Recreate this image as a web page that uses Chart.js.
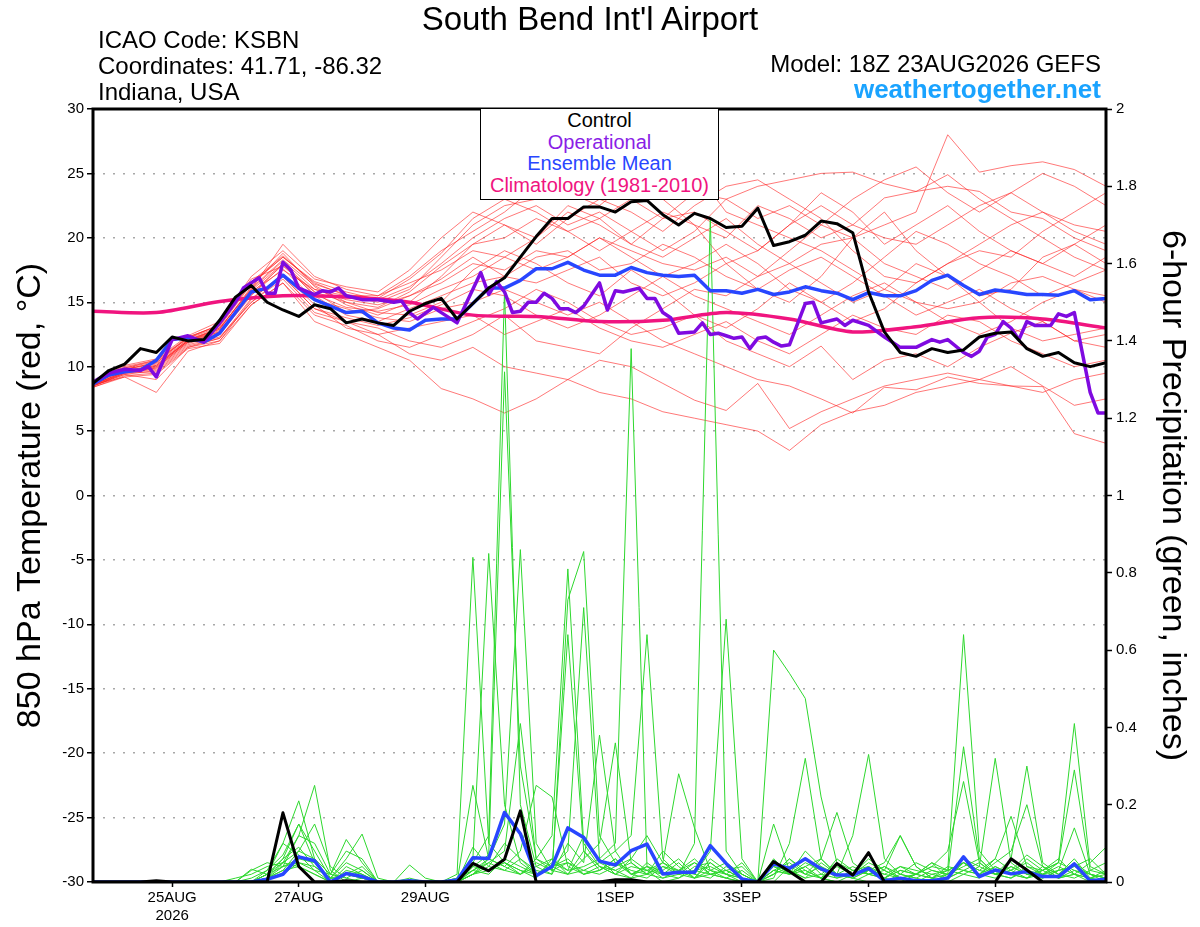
<!DOCTYPE html>
<html><head><meta charset="utf-8">
<script src="https://cdn.jsdelivr.net/npm/chart.js@4.4.1/dist/chart.umd.min.js"></script>
<style>
html,body{margin:0;padding:0;background:#fff;}
#wrap{position:relative;width:1200px;height:927px;overflow:hidden;font-family:"Liberation Sans",Arial,sans-serif;}
#c{position:absolute;left:0;top:0;}
.t{position:absolute;white-space:nowrap;line-height:1;color:#000;}
#legend{position:absolute;left:480px;top:108px;width:239px;height:92px;box-sizing:border-box;border:1.5px solid #000;background:#fff;text-align:center;font-size:20px;line-height:21.5px;padding-top:1px;}
</style></head>
<body><div id="wrap">
<canvas id="c" width="1200" height="927"></canvas>
<div class="t" style="left:390px;width:400px;text-align:center;top:2px;font-size:33px;">South Bend Int'l Airport</div>
<div class="t" style="left:98px;top:28px;font-size:24px;">ICAO Code: KSBN</div>
<div class="t" style="left:98px;top:54px;font-size:24px;">Coordinates: 41.71, -86.32</div>
<div class="t" style="left:98px;top:80px;font-size:24px;">Indiana, USA</div>
<div class="t" style="right:99px;top:52px;font-size:24px;text-align:right;">Model: 18Z 23AUG2026 GEFS</div>
<div class="t" style="right:99px;top:76px;font-size:26px;font-weight:bold;color:#1aa3ff;text-align:right;">weathertogether.net</div>
<div id="legend">
<div style="color:#000">Control</div>
<div style="color:#8a1ee6">Operational</div>
<div style="color:#2846ff">Ensemble Mean</div>
<div style="color:#f0147f">Climatology (1981-2010)</div>
</div>
</div>
<script>
// ---------- DATA ----------
const xTickHours  = [30, 78, 126, 198, 246, 294, 342];
const xTickLabels = [["25AUG","2026"], "27AUG", "29AUG", "1SEP", "3SEP", "5SEP", "7SEP"];

// lead hours from 18Z 23AUG2026, 6-hourly and 12-hourly grids
const leadHours6  = Array.from({length: 65}, (_, i) => i * 6);
const leadHours12 = Array.from({length: 33}, (_, i) => i * 12);

const controlTemp = [8.7,9.7,10.2,11.4,11.1,12.3,12.0,12.1,13.6,15.4,16.3,15.0,14.4,13.9,14.8,14.5,13.4,13.7,13.4,13.2,14.3,14.9,15.3,13.7,14.9,16.1,16.9,18.5,20.1,21.5,21.5,22.4,22.4,22.0,22.8,22.9,21.8,21.0,21.9,21.5,20.8,20.9,22.3,19.4,19.7,20.2,21.3,21.1,20.4,15.8,12.7,11.1,10.8,11.4,11.1,11.3,12.3,12.6,12.7,11.4,10.8,11.1,10.3,10.0,10.3];
const meanTemp = [8.65,9.35,9.6,9.74,10.5,12.1,12.25,11.9,12.6,14.2,15.8,16.1,17.1,16.1,15.2,14.7,14.2,14.3,13.4,13.0,12.85,13.6,13.7,13.7,14.9,16.1,16.1,16.7,17.6,17.6,18.1,17.5,17.1,17.1,17.7,17.3,17.1,17.0,17.1,15.9,15.9,15.7,16.0,15.6,15.8,16.2,15.9,15.7,15.2,15.75,15.5,15.5,15.9,16.7,17.1,16.3,15.6,15.95,15.8,15.6,15.6,15.55,15.9,15.2,15.3];

const opHours = [0,6,12,18,21,24,30,36,42,48,54,57,63,66,69,72,75,78,84,87,90,93,96,102,108,114,117,120,123,129,138,141,147,150,153,156,159,162,165,168,171,174,177,180,183,186,192,195,198,201,207,210,213,216,219,222,228,231,234,237,240,243,246,249,252,255,258,261,264,270,273,276,282,285,288,294,300,306,312,318,321,324,330,333,336,339,342,345,348,351,354,357,363,366,369,372,378,381,384];
const opTemp = [8.8,9.5,9.8,9.7,10.0,9.2,12.1,12.4,11.9,13.4,15.0,16.1,16.9,15.7,15.7,18.1,17.5,16.1,15.6,15.9,15.8,16.1,15.5,15.2,15.2,15.0,15.1,14.2,13.7,14.6,13.4,14.7,17.3,15.6,16.6,15.8,14.2,14.3,15.0,15.0,15.7,15.3,14.5,14.5,14.2,14.7,16.5,14.4,15.9,15.8,16.1,15.3,15.3,14.2,13.8,12.6,12.7,13.4,12.5,12.6,12.4,12.2,12.3,11.4,12.2,12.3,11.9,11.6,11.7,14.9,15.0,13.4,13.7,13.2,13.6,13.2,12.3,11.5,11.5,12.1,11.9,12.1,11.1,10.8,11.2,12.3,12.5,13.5,13.0,12.1,13.5,13.2,13.2,14.1,13.9,14.2,8.0,6.4,6.4];

const climHours = [0,24,48,72,96,120,144,168,192,216,240,264,288,312,336,360,384];
const climTemp  = [14.3,14.2,15.05,15.5,15.4,15.0,14.0,13.9,13.5,13.6,14.2,13.7,12.7,13.1,13.8,13.7,13.0];

// ensemble member 850 hPa temperatures (12-hourly)
const ensT01 = [8.8,9.8,10.2,12.0,12.8,15.8,17.5,16.0,15.2,14.8,15.5,16.5,18.0,17.5,19.0,18.5,20.0,19.0,18.0,17.5,18.5,17.0,18.0,19.5,20.0,21.0,22.0,28.0,25.1,25.6,25.9,25.3,24.0];
const ensT02 = [8.5,9.4,9.0,11.5,12.2,15.0,17.0,14.5,13.5,12.5,11.0,10.5,11.5,10.0,9.5,9.0,8.0,7.5,6.5,6.0,5.5,5.0,3.5,5.5,6.5,7.0,8.0,8.5,9.0,8.5,8.0,9.0,9.5];
const ensT03 = [8.6,9.2,8.0,11.2,12.0,14.8,16.5,13.5,12.5,11.5,10.5,8.3,7.5,6.4,7.5,9.0,10.5,10.0,8.7,7.4,6.6,8.7,5.2,6.5,7.5,8.5,9.0,9.5,9.0,10.0,8.5,7.0,7.5];
const ensT04 = [8.9,10.0,10.5,12.3,13.2,16.5,18.5,16.5,15.5,15.0,16.0,18.5,21.0,22.5,23.0,24.0,24.5,23.5,24.0,25.3,22.0,21.0,20.0,19.0,17.5,16.0,15.0,14.5,15.0,16.5,17.0,16.0,15.5];
const ensT05 = [8.7,9.7,10.0,12.0,13.0,16.0,19.5,17.0,16.0,15.5,17.0,19.0,20.5,22.0,24.0,23.5,22.5,24.5,23.0,21.0,18.0,16.0,15.0,17.0,20.0,22.0,19.0,17.0,15.0,13.0,12.0,12.5,13.0];
const ensT06 = [8.5,9.5,9.8,11.8,12.5,15.5,18.0,15.5,14.0,13.5,14.5,15.5,16.5,17.0,18.5,19.0,17.5,18.0,19.5,18.5,17.0,16.0,17.5,18.5,17.0,15.5,14.0,15.0,16.0,14.5,13.5,12.0,11.5];
const ensT07 = [8.4,9.3,9.5,11.5,12.0,15.2,17.2,14.8,13.0,12.5,13.0,13.5,14.0,12.5,13.5,14.5,13.0,12.0,11.5,12.5,13.5,12.0,11.0,12.5,14.0,13.0,12.5,14.0,13.5,12.0,11.0,10.0,10.5];
const ensT08 = [8.6,9.6,10.1,12.1,12.9,16.2,18.8,16.2,14.8,14.0,15.0,17.0,19.5,20.0,21.5,20.5,19.0,20.5,22.0,21.0,20.0,22.5,21.5,20.0,21.0,23.1,23.6,24.9,23.0,21.5,20.0,18.5,17.5];
const ensT09 = [8.8,9.9,10.4,12.2,13.3,16.8,17.8,15.8,15.0,14.2,14.0,15.0,17.5,19.0,18.0,16.5,15.5,17.5,16.0,14.0,13.0,14.5,16.5,15.0,13.5,14.5,16.5,18.0,19.5,21.0,22.0,20.5,19.5];
const ensT10 = [8.5,9.4,9.7,11.7,12.3,15.0,16.8,14.2,13.5,13.0,12.0,11.5,12.5,14.0,12.0,11.5,11.0,13.0,14.5,16.0,15.5,17.0,19.0,21.0,20.0,18.0,17.0,16.0,17.5,19.0,18.0,17.0,18.5];
const ensT11 = [8.9,10.1,10.6,12.4,13.5,17.0,19.0,16.8,16.2,15.8,17.5,20.0,22.0,21.0,19.5,21.5,23.0,22.0,20.5,22.5,24.0,24.5,23.0,21.5,19.0,17.0,16.5,18.0,19.0,18.5,20.5,22.0,23.5];
const ensT12 = [8.6,9.5,9.9,11.9,12.6,15.6,17.6,15.2,14.5,13.8,13.5,14.5,15.0,16.0,15.0,14.0,15.0,13.5,12.0,11.0,10.0,9.0,8.5,7.5,6.4,8.4,8.2,9.2,8.7,8.5,8.45,4.8,4.05];
const ensT13 = [8.7,9.8,10.3,12.1,13.0,16.0,18.2,16.0,15.5,15.5,16.5,17.5,19.0,18.5,20.0,22.0,21.0,19.5,18.5,20.0,21.5,19.5,18.0,16.5,15.0,16.0,18.0,17.0,15.5,16.0,18.5,19.5,18.0];
const ensT14 = [8.8,9.9,10.5,12.2,13.1,16.4,18.5,16.6,15.8,15.2,16.2,18.0,20.0,21.5,22.5,21.0,22.0,20.5,19.0,20.5,23.0,24.0,24.5,25.0,25.1,24.2,23.6,24.0,23.6,22.0,21.5,20.0,19.0];
const ensT15 = [8.4,9.2,9.4,11.4,11.8,14.8,16.5,14.0,13.2,12.0,11.5,12.5,13.5,14.5,16.0,15.0,13.5,12.5,13.0,14.0,12.0,11.0,10.0,11.6,9.0,10.5,11.0,10.0,11.5,12.6,13.5,12.0,12.5];
const ensT16 = [8.6,9.6,10.0,12.0,12.7,15.9,18.0,15.8,14.2,14.5,15.5,16.8,18.5,17.0,16.5,17.5,18.5,16.5,15.5,16.5,18.0,19.0,21.0,22.5,21.0,20.0,19.5,21.0,22.5,23.5,22.0,21.0,20.5];
const ensT17 = [8.7,9.7,10.1,12.0,12.9,16.1,18.3,16.3,15.0,14.6,15.8,17.8,19.5,21.0,20.0,22.5,21.5,23.0,21.5,22.0,20.5,19.0,21.0,23.5,22.0,19.5,21.0,22.5,20.5,19.0,18.0,19.5,21.0];
const ensT18 = [8.5,9.5,9.6,11.6,12.2,15.3,17.0,14.5,13.8,13.2,13.8,14.8,16.0,15.5,14.0,13.0,14.0,15.5,17.0,15.5,14.5,13.5,12.5,14.0,15.5,16.5,15.0,13.5,12.5,13.5,15.0,16.0,15.0];
const ensT19 = [8.8,9.8,10.3,12.3,13.2,16.6,18.6,16.4,15.6,15.3,16.8,18.8,21.5,23.0,22.0,20.5,21.5,19.5,21.5,23.5,23.0,21.5,22.5,21.0,23.0,24.5,25.5,23.5,22.0,23.5,25.0,24.0,22.5];
const ensT20 = [8.6,9.6,9.9,11.9,12.7,15.7,17.9,15.6,14.6,14.3,14.8,16.0,17.0,18.5,17.5,18.5,20.0,18.5,17.0,18.0,19.5,18.0,16.0,15.0,16.5,18.5,20.5,19.5,18.0,17.0,15.5,16.5,17.5];

// 6-hour precipitation (inches), 6-hourly
const controlPrecip = [0,0,0,0,0.003,0,0,0, 0,0,0,0,0.179,0.04,0,0, 0.003,0,0,0,0,0,0,0, 0.048,0.029,0.059,0.184,0,0,0,0, 0,0.006,0.006,0,0,0,0,0, 0,0,0,0.053,0.027,0,0,0.048, 0.018,0.076,0,0,0,0,0,0, 0,0,0.06,0.031,0,0,0,0, 0];
const meanPrecip = [0,0,0,0,0,0,0,0, 0,0,0,0.007,0.02,0.065,0.055,0, 0.022,0.014,0,0,0.003,0,0,0.005, 0.063,0.061,0.18,0.125,0.016,0.04,0.14,0.115, 0.054,0.044,0.081,0.098,0.021,0.025,0.025,0.094, 0.048,0.008,0,0.047,0.035,0.06,0.034,0.018, 0.018,0.035,0.003,0.01,0.003,0.003,0.01,0.065, 0.014,0.031,0.021,0.027,0.014,0.014,0.047,0.003, 0.007];

const ensP01 = [0,0,0,0,0,0,0,0, 0,0,0.01,0.03,0.10,0.21,0.06,0, 0.02,0.01,0,0,0,0,0,0.01, 0.05,0.12,1.53,0.20,0.04,0.02,0.10,0.05, 0.38,0.08,0.02,0.03,0,0.01,0.04,0.05, 0.02,0,0,0.02,0.06,0.03,0.01,0, 0,0.02,0.04,0.01,0,0,0.01,0.03, 0.02,0.05,0.08,0.20,0.04,0.01,0.02,0, 0];
const ensP02 = [0,0,0,0,0,0,0,0, 0,0,0,0.02,0.06,0.09,0.04,0.01, 0,0,0,0,0,0,0,0, 0.04,0.07,1.32,0.30,0.06,0.03,0.02,0.08, 0.04,0.02,0.06,0.12,0.05,0.28,0.14,0.03, 0.01,0,0,0.03,0.02,0.08,0.04,0.02, 0.01,0,0,0.02,0.05,0.03,0.02,0.35, 0.06,0.02,0.01,0.03,0.02,0.05,0.03,0.01, 0.02];
const ensP03 = [0,0,0,0,0,0,0,0, 0,0,0,0.01,0.04,0.12,0.10,0.02, 0.01,0.03,0,0,0.01,0,0,0.02, 0.84,0.10,0.05,0.03,0.01,0.06,0.03,0.12, 0.05,0.03,0.01,0.02,0.08,0.04,0.01,0.03, 0.05,0.02,0,0.01,0.10,0.32,0.06,0.02, 0.01,0.03,0.05,0.12,0.04,0.01,0,0.02, 0.01,0.04,0.02,0.01,0.03,0.06,0.02,0.01, 0];
const ensP04 = [0,0,0,0,0,0,0,0, 0,0,0,0.03,0.07,0.15,0.05,0, 0,0,0,0,0,0,0,0, 0.06,0.85,0.20,0.05,0.02,0.04,0.02,0.06, 0.10,0.36,0.05,0.02,0.01,0.03,0.06,0.02, 0.01,0.03,0,0,0.04,0.02,0.01,0.06, 0.03,0.02,0.01,0,0.02,0.04,0.08,0.26, 0.05,0.02,0.03,0.07,0.04,0.02,0.06,0.01, 0.03];
const ensP05 = [0,0,0,0,0,0,0,0, 0,0,0,0.01,0.05,0.12,0.25,0.03, 0,0.01,0,0,0,0,0,0, 0.02,0.06,0.15,0.86,0.10,0.03,0.05,0.02, 0.03,0.06,0.02,0.01,0.04,0.02,0.01,0.06, 0.03,0.01,0,0.15,0.03,0.01,0.05,0.02, 0.12,0.33,0.06,0.02,0.01,0,0.02,0.04, 0.06,0.02,0.01,0.04,0.03,0.01,0.02,0.05, 0.09];
const ensP06 = [0,0,0,0,0,0,0,0, 0,0,0,0.02,0.06,0.15,0.08,0.01, 0.05,0.03,0,0,0,0,0,0, 0.03,0.05,0.08,0.41,0.06,0.12,0.81,0.10, 0.04,0.02,0.01,0.05,0.02,0.01,0.03,0.02, 0.01,0,0,0.06,0.02,0.04,0.01,0, 0.02,0.05,0.03,0.01,0,0.02,0.03,0.05, 0.02,0.01,0.04,0.02,0.01,0.03,0.14,0.02, 0.01];
const ensP07 = [0,0,0,0,0,0,0,0, 0,0,0,0.01,0.03,0.08,0.15,0.04, 0.01,0,0,0,0,0,0,0, 0.02,0.04,0.10,0.06,0.03,0.02,0.73,0.855, 0.12,0.05,0.03,0.02,0.05,0.03,0.02,0.01, 0.04,0.02,0,0.03,0.05,0.02,0.06,0.18, 0.05,0.02,0.01,0.03,0.02,0.01,0.04,0.03, 0.02,0.06,0.03,0.01,0.02,0.04,0.02,0.01, 0];
const ensP08 = [0,0,0,0,0,0,0,0, 0,0,0,0.02,0.10,0.07,0.03,0, 0.04,0.02,0,0,0,0,0,0, 0.25,0.06,0.04,0.02,0.05,0.03,0.64,0.08, 0.03,0.06,0.02,0.04,0.01,0.02,0.05,0.03, 0.02,0.01,0,0.05,0.02,0.03,0.01,0.04, 0.02,0.06,0.03,0.12,0.04,0.01,0.02,0.05, 0.03,0.06,0.17,0.04,0.02,0.01,0.03,0.02, 0.01];
const ensP09 = [0,0,0,0,0,0,0,0, 0,0.01,0.02,0.04,0.05,0.08,0.06,0.02, 0.11,0.05,0,0,0,0,0,0, 0.09,0.04,0.03,0.02,0.06,0.04,0.08,0.71, 0.06,0.02,0.04,0.03,0.02,0.05,0.01,0.02, 0.03,0.01,0,0.02,0.04,0.06,0.02,0.01, 0.03,0.04,0.02,0.01,0.02,0.05,0.03,0.64, 0.08,0.03,0.02,0.01,0.04,0.02,0.05,0.02, 0];
const ensP10 = [0,0,0,0,0,0,0,0, 0,0,0.03,0.05,0.04,0.06,0.05,0.01, 0.06,0.124,0.01,0,0,0,0,0, 0.03,0.02,0.06,0.04,0.02,0.05,0.03,0.04, 0.06,0.10,1.38,0.04,0.02,0.03,0.01,0.05, 0.02,0.01,0,0.04,0.03,0.01,0.02,0.05, 0.03,0.02,0.04,0.02,0.01,0.03,0.02,0.06, 0.04,0.32,0.05,0.02,0.01,0.03,0.04,0.02, 0.01];
const ensP11 = [0,0,0,0,0,0,0,0, 0,0,0,0.02,0.04,0.05,0.03,0.02, 0.08,0.06,0,0,0,0,0,0, 0.04,0.03,0.05,0.02,0.04,0.06,0.02,0.03, 0.05,0.08,0.12,0.64,0.06,0.02,0.03,0.04, 0.02,0.05,0,0.02,0.06,0.02,0.04,0.01, 0.02,0.03,0.01,0.04,0.02,0.05,0.01,0.03, 0.05,0.02,0.06,0.30,0.05,0.02,0.01,0.03, 0.02];
const ensP12 = [0,0,0,0,0,0,0,0, 0,0,0,0.01,0.03,0.04,0.02,0, 0.03,0.02,0,0,0.044,0.01,0,0, 0.02,0.05,0.03,0.06,0.02,0.04,0.05,0.03, 0.02,0.04,0.06,0.03,0.05,0.02,0.10,1.72, 0.08,0.02,0,0.04,0.02,0.05,0.03,0.02, 0.04,0.02,0.03,0.01,0.02,0.04,0.03,0.05, 0.02,0.04,0.02,0.06,0.03,0.05,0.41,0.04, 0.02];
const ensP13 = [0,0,0,0,0,0,0,0, 0,0,0.033,0.02,0.05,0.04,0.02,0, 0.02,0.01,0,0,0,0,0,0.01, 0.03,0.06,0.04,0.08,0.25,0.22,0.04,0.02, 0.03,0.05,0.02,0.04,0.03,0.06,0.02,0.08, 0.68,0.06,0,0.03,0.02,0.04,0.06,0.02, 0.01,0.03,0.02,0.04,0.03,0.02,0.01,0.05, 0.03,0.02,0.04,0.02,0.03,0.05,0.29,0.03, 0.05];
const ensP14 = [0,0,0,0,0,0,0,0, 0,0,0,0.01,0.02,0.05,0.04,0.01, 0.02,0.04,0,0,0,0,0,0, 0.02,0.03,0.05,0.03,0.02,0.04,0.06,0.02, 0.04,0.03,0.05,0.02,0.04,0.03,0.05,0.02, 0.03,0.04,0,0.60,0.54,0.475,0.22,0.05, 0.02,0.04,0.01,0.03,0.02,0.01,0.03,0.02, 0.04,0.02,0.03,0.05,0.02,0.03,0.04,0.06, 0.02];

// ---------- CHART ----------
const FONT = "'Liberation Sans', Arial, sans-serif";
const pts = (xs, ys) => ys.map((v, i) => ({x: xs[i], y: v}));

const tempMembers = [ensT01,ensT02,ensT03,ensT04,ensT05,ensT06,ensT07,ensT08,ensT09,ensT10,ensT11,ensT12,ensT13,ensT14,ensT15,ensT16,ensT17,ensT18,ensT19,ensT20];
const precipMembers = [ensP01,ensP02,ensP03,ensP04,ensP05,ensP06,ensP07,ensP08,ensP09,ensP10,ensP11,ensP12,ensP13,ensP14];

const datasets = [];
tempMembers.forEach((m, k) => datasets.push({
  label: 'member T ' + (k + 1), data: pts(leadHours12, m), yAxisID: 'y',
  borderColor: 'rgba(255,30,30,0.6)', borderWidth: 1, order: 20
}));
precipMembers.forEach((m, k) => datasets.push({
  label: 'member P ' + (k + 1), data: pts(leadHours6, m), yAxisID: 'y1',
  borderColor: '#2ed82e', borderWidth: 1, order: 10
}));
datasets.push({label: 'Ensemble Mean precip', data: pts(leadHours6, meanPrecip), yAxisID: 'y1', borderColor: '#2846ff', borderWidth: 3.5, order: 6});
datasets.push({label: 'Control precip', data: pts(leadHours6, controlPrecip), yAxisID: 'y1', borderColor: '#000', borderWidth: 3, order: 5});
datasets.push({label: 'Climatology (1981-2010)', data: pts(climHours, climTemp), yAxisID: 'y', borderColor: '#f0147f', borderWidth: 3.5, tension: 0.3, order: 4});
datasets.push({label: 'Ensemble Mean', data: pts(leadHours6, meanTemp), yAxisID: 'y', borderColor: '#2846ff', borderWidth: 3.5, order: 3});
datasets.push({label: 'Operational', data: pts(opHours, opTemp), yAxisID: 'y', borderColor: '#7f0ae0', borderWidth: 3.5, order: 2});
datasets.push({label: 'Control', data: pts(leadHours6, controlTemp), yAxisID: 'y', borderColor: '#000', borderWidth: 3, order: 1});

const framePlugin = {
  id: 'frame',
  afterDatasetsDraw(chart) {
    const {ctx, chartArea: a} = chart;
    ctx.save();
    ctx.strokeStyle = '#000';
    ctx.lineWidth = 3;
    ctx.strokeRect(a.left, a.top, a.right - a.left, a.bottom - a.top);
    ctx.restore();
  }
};

new Chart(document.getElementById('c'), {
  type: 'line',
  data: {datasets},
  options: {
    responsive: false,
    animation: false,
    devicePixelRatio: 1,
    layout: {padding: {top: 109, left: 0, right: 0, bottom: 0}},
    plugins: {legend: {display: false}, tooltip: {enabled: false}, title: {display: false}},
    elements: {point: {radius: 0}, line: {tension: 0, borderJoinStyle: 'round'}},
    scales: {
      x: {
        type: 'linear', min: 0, max: 384,
        afterFit: s => { s.height = 45; },
        afterBuildTicks: s => { s.ticks = xTickHours.map(v => ({value: v})); },
        ticks: {
          autoSkip: false, maxRotation: 0, minRotation: 0, color: '#000', padding: 2,
          font: {family: FONT, size: 15},
          callback: v => { const i = xTickHours.indexOf(v); return i >= 0 ? xTickLabels[i] : ''; }
        },
        grid: {drawOnChartArea: false, drawTicks: true, tickLength: 5, tickColor: '#000', tickWidth: 1.5},
        border: {display: false}
      },
      y: {
        position: 'left', min: -30, max: 30,
        afterFit: s => { s.width = 93; },
        ticks: {stepSize: 5, color: '#000', padding: 3, font: {family: FONT, size: 15}},
        title: {display: true, text: '850 hPa Temperature (red, °C)', color: '#000',
                font: {family: FONT, size: 34}, padding: {top: 10, bottom: 0}},
        grid: {color: '#a8a8a8', lineWidth: 1.5, tickLength: 6, tickColor: '#000', tickWidth: 1.5},
        border: {display: false, dash: [2, 8]}
      },
      y1: {
        position: 'right', min: 0, max: 2,
        afterFit: s => { s.width = 94; },
        ticks: {stepSize: 0.2, color: '#000', padding: 4, font: {family: FONT, size: 15},
                callback: v => String(Number(v.toFixed(1)))},
        title: {display: true, text: '6-hour Precipitation (green, inches)', color: '#000',
                font: {family: FONT, size: 34}, padding: {top: 7, bottom: 0}},
        grid: {drawOnChartArea: false, tickLength: 6, tickColor: '#000', tickWidth: 1.5},
        border: {display: false}
      }
    }
  },
  plugins: [framePlugin]
});
</script>
</body></html>
